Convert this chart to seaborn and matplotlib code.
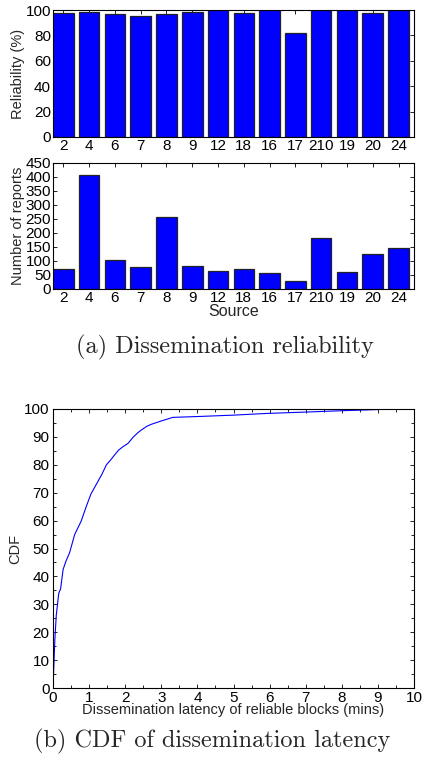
import numpy as np
import pandas as pd
import matplotlib
matplotlib.use("Agg")
import matplotlib.pyplot as plt
import seaborn as sns

# Sources (kept as labels, in the order shown)
sources = ["2", "4", "6", "7", "8", "9", "12", "18", "16", "17", "210", "19", "20", "24"]
reliability = [98, 98.5, 97, 95, 97, 98.5, 100, 98, 100, 81.5, 100, 100, 97.5, 100]
reports = [72, 407, 102, 80, 257, 82, 65, 72, 58, 27, 182, 60, 125, 148]

# CDF of dissemination latency (mins, %)
latency = [0, 0.03, 0.05, 0.09, 0.16, 0.21, 0.28, 0.36, 0.46, 0.6, 0.78, 0.92,
           1.05, 1.2, 1.35, 1.48, 1.6, 1.71, 1.82, 1.94, 2.08, 2.22, 2.35, 2.45,
           2.6, 2.72, 2.95, 3.32, 4.0, 5.0, 5.9, 7.0, 8.03, 9.0, 9.3]
cdf = [0, 10, 17, 26, 34, 35.5, 42.5, 45.5, 48.5, 55, 59.8, 65,
       69.5, 73, 76.5, 80, 81.8, 83.6, 85.3, 86.5, 87.7, 89.9, 91.5, 92.5,
       93.8, 94.5, 95.5, 97, 97.3, 97.8, 98.4, 98.9, 99.4, 99.8, 100]

sns.set_style("ticks")
plt.rcParams['font.family'] = ['Liberation Sans', 'DejaVu Sans']

df = pd.DataFrame({"source": sources, "reliability": reliability, "reports": reports})

fig = plt.figure(figsize=(4.24, 7.57), dpi=100)
ax1 = fig.add_axes([53/424, 1-137/757, 361/424, 127/757])
ax2 = fig.add_axes([53/424, 1-289/757, 361/424, 126/757])
ax3 = fig.add_axes([53/424, 1-688/757, 361/424, 279/757])

bar_kw = dict(color="#0000ff", edgecolor="#222222", linewidth=0.9, width=0.8,
              order=sources, saturation=1)
sns.barplot(data=df, x="source", y="reliability", ax=ax1, **bar_kw)
sns.barplot(data=df, x="source", y="reports", ax=ax2, **bar_kw)

ax1.set_ylim(0, 100)
ax1.set_yticks(range(0, 101, 20))
ax1.set_ylabel("Reliability (%)", fontsize=10.5, labelpad=0)
ax1.set_xlabel("")
ax2.set_ylim(0, 450)
ax2.set_yticks(range(0, 451, 50))
ax2.set_ylabel("Number of reports", fontsize=10.5, labelpad=0)
ax2.set_xlabel("Source", fontsize=11.5, labelpad=-1)

for ax in (ax1, ax2):
    ax.set_xlim(-0.4, 13.6)
    ax.tick_params(labelsize=11, pad=1.5)

sns.lineplot(x=latency, y=cdf, ax=ax3, color="#0000ff", linewidth=0.8)
ax3.set_xlim(0, 10)
ax3.set_ylim(0, 100)
ax3.set_xticks(range(0, 11))
ax3.set_yticks(range(0, 101, 10))
ax3.set_xticks(np.arange(0.5, 10, 1), minor=True)
ax3.set_yticks(np.arange(5, 100, 10), minor=True)
ax3.set_ylabel("CDF", fontsize=10.5, labelpad=1)
ax3.set_xlabel("Dissemination latency of reliable blocks (mins)", fontsize=10.5, labelpad=-1)
ax3.tick_params(labelsize=11)
ax3.tick_params(axis="x", pad=2)
ax3.tick_params(axis="y", pad=2.5)

for ax in (ax1, ax2, ax3):
    for s in ax.spines.values():
        s.set_visible(True)
        s.set_linewidth(0.8)
        s.set_color("black")
    ax.tick_params(which="both", direction="in", top=True, right=True,
                   length=3, width=0.6, colors="black")
    ax.tick_params(which="minor", length=2)

fig.text(0.53, 1-347/757, "(a) Dissemination reliability", ha="center", va="center",
         fontsize=17.5, family=["cmr10", "DejaVu Serif"])
fig.text(0.5, 1-741/757, "(b) CDF of dissemination latency", ha="center", va="center",
         fontsize=17.5, family=["cmr10", "DejaVu Serif"])

fig.savefig("out.png", dpi=100)
